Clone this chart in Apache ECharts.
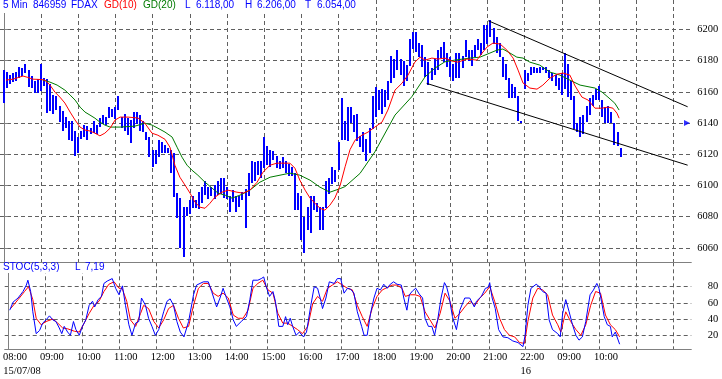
<!DOCTYPE html>
<html><head><meta charset="utf-8">
<script src="https://cdn.jsdelivr.net/npm/echarts@6/dist/echarts.min.js"></script>
<style>html,body{margin:0;padding:0;background:#fff}#c{width:722px;height:379px}</style>
</head><body><div id="c"></div>
<script>
// ---- data (bar index: 0 = 15/07 08:00, 5-minute bars; 168 = 16/07 08:00) ----
const barHigh = [
6174,6173,6171,6172,6173,6176,6175,6178,6174,6170,
6167,6168,6178,6169,6168,6165,6158,6157,6151,6148,
6144,6141,6141,6135,6131,6135,6139,6138,6137,6141,
6139,6143,6145,6144,6150,6149,6150,6157,6144,6146,
6143,6142,6147,6147,6145,6141,6134,6131,6123,6123,
6129,6128,6126,6124,6123,6121,6095,6092,6086,6086,
6091,6093,6091,6096,6099,6103,6099,6099,6100,6103,
6105,6105,6099,6093,6097,6093,6093,6096,6098,6108,
6116,6115,6116,6116,6131,6125,6123,6122,6119,6116,
6118,6116,6114,6112,6108,6095,6093,6080,6086,6093,
6093,6089,6086,6086,6103,6105,6112,6110,6128,6156,
6141,6150,6150,6145,6146,6132,6134,6130,6137,6157,
6163,6161,6162,6161,6167,6183,6181,6187,6181,6180,
6177,6194,6198,6198,6191,6190,6182,6179,6175,6181,
6187,6189,6192,6185,6182,6178,6185,6185,6183,6193,
6187,6187,6190,6194,6191,6203,6203,6206,6201,6195,
6191,6182,6178,6169,6165,6163,6157,6141,6174,6172,
6176,6176,6175,6176,6176,6176,6174,6172,6171,6169,
6172,6185,6178,6167,6157,6140,6144,6145,6151,6156,
6158,6162,6164,6155,6150,6151,6147,6140,6134,6124];
const barLow = [
6153,6163,6165,6166,6167,6169,6170,6172,6163,6162,
6159,6159,6161,6164,6146,6148,6146,6148,6141,6135,
6137,6129,6128,6119,6121,6130,6131,6129,6133,6133,
6133,6137,6139,6139,6143,6144,6142,6148,6137,6135,
6132,6127,6137,6139,6135,6134,6129,6118,6112,6114,
6118,6121,6121,6121,6108,6093,6079,6060,6054,6080,
6082,6085,6086,6085,6089,6094,6091,6093,6091,6094,
6095,6092,6091,6083,6089,6083,6086,6091,6073,6093,
6102,6103,6107,6105,6111,6113,6112,6116,6111,6111,
6111,6108,6106,6106,6084,6084,6065,6057,6071,6069,
6084,6083,6071,6071,6086,6095,6101,6102,6110,6129,
6129,6128,6140,6134,6129,6125,6121,6116,6121,6136,
6144,6148,6146,6150,6155,6166,6169,6174,6171,6164,
6167,6177,6187,6185,6182,6176,6169,6164,6167,6171,
6174,6182,6179,6176,6169,6167,6169,6169,6175,6182,
6180,6177,6182,6187,6183,6187,6191,6195,6191,6185,
6182,6169,6168,6156,6156,6156,6141,6140,6162,6167,
6171,6172,6172,6172,6174,6172,6169,6167,6164,6161,
6158,6162,6157,6155,6136,6134,6131,6133,6141,6145,
6151,6155,6155,6144,6140,6140,6140,6126,6125,6118];

// GD(10) as [bar index, value]
const gd10 = [[0.7,6167.5],[3,6168.1],[6.2,6170.1],[7.8,6169.2],[9.4,6168.1],[11.7,6167.9],[13.3,6167.5],[14.9,6164.3],[16.5,6159.8],[18.1,6156.6],[19.7,6152.8],[21.4,6147],[23,6141.9],[24.6,6137.4],[26.2,6135.5],[27.8,6134.9],[29.4,6133.5],[31,6131.8],[32.6,6133.5],[34.3,6136.7],[35.9,6141.9],[37.5,6143.8],[40.1,6143.8],[43.3,6143.2],[45.5,6139.9],[47.8,6133.5],[49.7,6132.2],[52,6129.6],[53.6,6124.5],[55.2,6112.9],[56.8,6105.3],[58.5,6100.1],[60.1,6095],[61.7,6089.2],[63.3,6086.1],[64.9,6085.4],[66.5,6088.6],[68.1,6092.5],[70.4,6095.7],[72.3,6097],[75.2,6095.7],[77.2,6095.1],[79.4,6097],[81.7,6102.1],[83.6,6108.5],[85.9,6113],[88.1,6114.3],[90.1,6114.3],[92.3,6114.3],[93.9,6111.1],[95.5,6103.4],[97.2,6097],[98.8,6091.9],[100.4,6088.6],[102,6085.4],[103.6,6084.2],[105.2,6087.4],[106.8,6092],[108.5,6100],[110.1,6112],[111.7,6123],[113.3,6129],[115.5,6132.2],[117.5,6134.2],[119.7,6137.4],[122,6140.6],[123.9,6148.3],[126.2,6161.1],[128.5,6165.6],[130.4,6170.7],[132.6,6179],[134.3,6182.2],[135.9,6180.3],[138.1,6181.6],[140.1,6181],[142.3,6181.6],[144.6,6179.7],[146.5,6179],[149.4,6181],[152.6,6180.3],[154.3,6184.8],[155.9,6188.7],[157.8,6191.2],[160.1,6190.6],[162.3,6186.7],[164.3,6181.6],[165.9,6173.9],[167.5,6165.6],[169.7,6162.4],[172,6161.7],[173.9,6164.3],[176.2,6168.8],[178.5,6171.3],[180.4,6172],[182.6,6170.7],[184.3,6163.7],[186.5,6156.6],[188.5,6154.7],[190.7,6149.5],[192.9,6149.5],[194.9,6150.2],[196.5,6149.5],[197.8,6146.3],[198.5,6143.1]];
// GD(20) as [bar index, value]
const gd20 = [[12.6,6167.5],[14.9,6166.2],[17.2,6164.3],[19.7,6161.1],[21.4,6157.9],[23,6154.7],[24.6,6150.2],[26.2,6147],[27.8,6145.1],[29.4,6143.1],[31,6140.6],[32.6,6138.7],[34.3,6137.4],[37.5,6137.4],[42.3,6138],[45.5,6139.9],[47.8,6138.7],[49.7,6136.7],[52,6134.2],[54.3,6131],[55.9,6124.5],[57.5,6118.1],[59.1,6113],[60.7,6109.8],[62.6,6106.6],[64.9,6102.1],[67.2,6098.3],[69.1,6095.1],[71.4,6093.8],[73.6,6091.9],[76.2,6093.8],[79.4,6097],[82.6,6102.1],[85.9,6105.3],[89.1,6106.6],[92.3,6107.9],[95.5,6106.6],[98.8,6103.4],[102,6098.9],[105.2,6095.7],[108.5,6098],[110.1,6099.3],[114.9,6107.7],[119.7,6121.5],[126.2,6145.1],[131.6,6156.8],[135.9,6169.6],[139.1,6175.2],[142.3,6179.2],[145.5,6180.3],[150.4,6181.6],[153.6,6182.2],[156.8,6184.8],[159.1,6186.7],[161,6187.4],[163.3,6184.8],[165.5,6182.2],[167.5,6181.6],[169.7,6179],[172.9,6177.1],[176.2,6172.6],[179.4,6170.7],[182.6,6167.5],[185.9,6164.3],[190.7,6162.4],[193,6159.8],[194.9,6156.6],[197.1,6152.7],[198.5,6148.3]];

// Stochastic %K (blue) and %D (red) as [bar index, value]
const stochK = [[0.4,51],[1.5,61],[3.1,66],[4.7,74],[5.8,82],[6.3,88],[7.2,74],[7.9,49],[9,22],[10.1,26],[11.1,35],[12.2,39],[13.3,44],[14.4,39],[15.4,37],[16.5,29],[17.3,22],[18.1,31],[19.2,24],[20.1,20],[21.1,37],[21.9,27],[23,20],[24,31],[25.1,39],[26.2,57],[27.3,62],[28,55],[29.1,64],[30.2,68],[31,84],[32.1,87],[33.7,90],[34.8,78],[35.9,70],[37,81],[38,57],[39.1,33],[40.1,20],[41.3,35],[42.3,37],[43.2,66],[44.5,57],[45.5,41],[46.6,31],[47.7,20],[48.8,27],[50.4,49],[51.5,62],[52.5,65],[53.6,57],[54.7,37],[55.8,24],[57,18],[58.5,37],[60.1,70],[61.1,82],[63.3,86],[64.9,86],[66,74],[67.6,55],[68.7,66],[69.7,78],[70.8,66],[71.9,55],[73,39],[74,31],[75.6,37],[77.3,43],[78.4,64],[79.4,88],[81,88],[82.1,90],[82.9,92],[83.7,80],[84.8,68],[85.9,74],[86.7,62],[87.8,31],[89.1,31],[90,43],[90.7,33],[91.5,41],[92.3,31],[93.4,20],[94.5,24],[95.8,18],[96.8,24],[98.2,57],[99.3,80],[100.4,78],[101.5,62],[102,53],[103.1,66],[104.2,86],[105.8,84],[106.8,90],[107.9,90],[109,72],[110.1,78],[111.1,77],[112.2,72],[113.3,49],[114.7,31],[115.5,20],[116.5,20],[117.6,47],[118.7,66],[119.7,78],[120.8,76],[121.9,83],[123,78],[124,83],[125.1,86],[126.2,83],[127.6,82],[128.4,66],[129.4,51],[130.2,70],[131.3,75],[132.3,78],[133.4,71],[134.5,66],[135.3,41],[136.4,31],[137.5,31],[138.4,20],[139.4,39],[140.5,66],[141.6,85],[142.3,80],[143.1,68],[144.2,43],[145.5,27],[146.6,51],[148.2,66],[149.8,66],[151.3,55],[152,62],[153.6,68],[154.9,78],[155.8,79],[156.3,85],[157.1,66],[158.1,53],[159.2,27],[160.6,18],[162.2,17],[163.8,13],[165.5,11],[167.1,6],[167.8,20],[168.7,57],[169.7,78],[171.4,83],[172.4,80],[173.5,74],[174.6,72],[175.6,39],[176.7,27],[178.4,22],[179.2,18],[180,47],[181,64],[182.1,49],[183.2,33],[184.3,20],[185.3,14],[186.4,18],[187.5,37],[188.9,70],[190,76],[191.1,84],[191.8,78],[192.6,62],[193.5,43],[194.5,33],[195.5,31],[196.1,18],[197.1,24],[198.5,9]];
const stochD = [[0.7,53],[3.1,64],[5.2,74],[6.5,80],[7.9,64],[9,41],[10.6,33],[12.2,37],[14.4,40],[16,35],[17.6,29],[19.2,28],[21.4,25],[23,24],[24.6,35],[26.2,47],[27.8,57],[29.4,62],[31,74],[32.6,83],[34.3,86],[35.9,78],[36.9,78],[38.4,62],[39.6,39],[41.3,31],[42.9,47],[43.9,57],[45.5,53],[47.2,37],[48.8,29],[50.4,39],[52,53],[53.6,57],[55.2,41],[56.8,29],[58.5,31],[60.1,57],[61.7,78],[63.3,84],[64.9,84],[66.5,72],[68.1,68],[69.7,72],[71.4,66],[73,45],[74.6,41],[76.2,41],[77.8,51],[79.4,78],[81,84],[82.6,88],[84.3,76],[85.9,72],[87.5,47],[89.1,35],[90.7,35],[92.3,31],[93.9,27],[95.5,22],[97.2,31],[98.8,59],[100.4,68],[102,62],[103.6,78],[105.2,82],[106.8,86],[108.5,82],[110.1,78],[111.7,76],[113.3,57],[114.9,43],[116.5,31],[118.1,53],[119.7,68],[121.4,76],[123,79],[124.6,82],[126.2,82],[127.8,78],[128.9,68],[130.5,70],[132.1,70],[133.7,68],[135.3,49],[136.9,39],[138.5,29],[140.2,47],[141.8,72],[143.4,62],[145,41],[146.6,47],[148.2,55],[149.8,62],[151.5,57],[153.1,66],[154.7,72],[156.3,80],[157.9,62],[159.5,41],[161.1,27],[162.7,20],[164.4,18],[166,11],[167.6,10],[168.7,37],[170.3,66],[171.9,78],[173.5,76],[175.1,70],[176.7,45],[178.4,33],[179.4,24],[181,49],[182.6,37],[184.3,27],[185.9,20],[187.5,33],[189.1,57],[190.7,74],[192.3,72],[193.9,45],[195.5,33],[197.1,27],[198.5,18]];

// trend channel lines [bar index, value]
const channelUpper = [[156.3,6205.5],[220.6,6150.4]];
const channelLower = [[136.4,6165.4],[220.6,6113.0]];
const lastMarker = [[220.4,6140]];

// ticks / labels
const priceTicks = [6060,6080,6100,6120,6140,6160,6180,6200];
const stochTicks = [20,40,60,80];
const gridIdx = [12,24,36,48,60,72,84,96,108,120,132,144,156,168,180,192,204,216];
const timeTickIdx = [0,12,24,36,48,60,72,84,96,108,120,132,144,156,168,180,192];
const timeTickLabels = ['08:00','09:00','10:00','11:00','12:00','13:00','14:00','15:00','16:00','17:00','18:00','19:00','20:00','21:00','22:00','09:00','10:00'];
const dateTickIdx = [4.4,168];
const dateTickLabels = ['15/07/08','16'];
const headerItems = [['5 Min','#0000ff',3],['846959','#0000ff',33],['FDAX','#0000ff',71],['GD(10)','#ff0000',104],['GD(20)','#007a00',143],['L','#0000ff',185],['6.118,00','#0000ff',196],['H','#0000ff',245],['6.206,00','#0000ff',257],['T','#0000ff',305],['6.054,00','#0000ff',317]];
const stocHeaderItems = [['STOC(5,3,3)','#0000ff',3],['L','#0000ff',75],['7,19','#0000ff',85]];

// ---- chart ----
const X_MIN = -1.226, X_MAX = 221.78, LABEL_SHIFT = 2.1;
const GRID_COLOR = '#606060', AXIS_COLOR = '#808080';
const serif = '"Liberation Serif","Times New Roman",serif';
const sans = '"Liberation Sans",Arial,sans-serif';
const dash = {color: GRID_COLOR, width: 1, type: [4, 3]};

const bars = barHigh.map((h, i) => [i, barLow[i], h]);

function xBase(gi) {
  return {gridIndex: gi, type: 'value', position: 'bottom', min: X_MIN, max: X_MAX,
    axisLine: {show: true, onZero: false, lineStyle: {color: AXIS_COLOR}},
    axisTick: {show: false, customValues: gridIdx},
    axisLabel: {show: false, customValues: gridIdx},
    splitLine: {show: true, lineStyle: dash}};
}

const graphic = [
  {type: 'rect', shape: {x: 0, y: 0, width: 356, height: 13}, style: {fill: '#fff'}, z: 10},
  {type: 'rect', shape: {x: 0, y: 263, width: 106, height: 10}, style: {fill: '#fff'}, z: 10}
];
headerItems.forEach(([t, c, x]) => graphic.push({type: 'text', x: x, y: 0, z: 11,
  style: {text: t, fill: c, font: '10px ' + sans, textVerticalAlign: 'top'}}));
stocHeaderItems.forEach(([t, c, x]) => graphic.push({type: 'text', x: x, y: 262.5, z: 11,
  style: {text: t, fill: c, font: '10px ' + sans, textVerticalAlign: 'top'}}));

const option = {
  animation: false,
  backgroundColor: '#fff',
  grid: [
    {left: 0, top: 0, width: 691.3, height: 262.3},
    {left: 0, top: 262.3, width: 691.3, height: 87}
  ],
  xAxis: [
    xBase(0),
    xBase(1),
    {gridIndex: 1, type: 'value', position: 'bottom', min: X_MIN - LABEL_SHIFT, max: X_MAX - LABEL_SHIFT,
      axisLine: {show: false, onZero: false}, splitLine: {show: false},
      axisTick: {show: false, customValues: timeTickIdx},
      axisLabel: {show: true, customValues: timeTickIdx, margin: 2, color: '#000',
        fontFamily: serif, fontSize: 10.5,
        formatter: v => timeTickLabels[timeTickIdx.indexOf(Math.round(v))] || ''}},
    {gridIndex: 1, type: 'value', position: 'bottom', min: X_MIN, max: X_MAX,
      axisLine: {show: false, onZero: false}, splitLine: {show: false},
      axisTick: {show: false, customValues: dateTickIdx},
      axisLabel: {show: true, customValues: dateTickIdx, margin: 16, color: '#000',
        fontFamily: serif, fontSize: 10.5,
        formatter: v => { const k = dateTickIdx.findIndex(d => Math.abs(d - v) < 0.01); return k >= 0 ? dateTickLabels[k] : ''; }}}
  ],
  yAxis: [
    {gridIndex: 0, type: 'value', position: 'right', min: 6050.8, max: 6218.8,
      axisLine: {show: true, lineStyle: {color: AXIS_COLOR}},
      axisTick: {show: true, length: 4, customValues: priceTicks, lineStyle: {color: AXIS_COLOR}},
      axisLabel: {customValues: priceTicks, align: 'right', margin: 27, color: '#000', fontFamily: serif, fontSize: 10.5,
        formatter: v => String(Math.round(v))},
      splitLine: {show: true, lineStyle: dash}},
    {gridIndex: 1, type: 'value', position: 'right', min: 2.7, max: 110.1,
      axisLine: {show: true, lineStyle: {color: AXIS_COLOR}},
      axisTick: {show: false, customValues: stochTicks},
      axisLabel: {customValues: stochTicks, align: 'right', margin: 27, color: '#000', fontFamily: serif, fontSize: 10.5,
        formatter: v => String(Math.round(v))},
      splitLine: {show: true, lineStyle: dash}}
  ],
  graphic: graphic,
  series: [
    {type: 'custom', xAxisIndex: 0, yAxisIndex: 0, data: bars, encode: {x: 0, y: [1, 2]}, z: 3,
      renderItem: function (params, api) {
        const top = api.coord([api.value(0), api.value(2)]);
        const bot = api.coord([api.value(0), api.value(1)]);
        const x = Math.round(top[0]) - 1;
        return {type: 'rect', shape: {x: x, y: Math.round(top[1]), width: 2, height: Math.max(1, Math.round(bot[1] - top[1]))},
          style: {fill: '#0000ff'}};
      }},
    {type: 'line', xAxisIndex: 0, yAxisIndex: 0, data: gd20, showSymbol: false, z: 4,
      lineStyle: {color: '#007a00', width: 1}},
    {type: 'line', xAxisIndex: 0, yAxisIndex: 0, data: gd10, showSymbol: false, z: 5,
      lineStyle: {color: '#ff0000', width: 1}},
    {type: 'line', xAxisIndex: 0, yAxisIndex: 0, data: channelUpper, showSymbol: false, z: 6,
      lineStyle: {color: '#000', width: 1}},
    {type: 'line', xAxisIndex: 0, yAxisIndex: 0, data: channelLower, showSymbol: false, z: 6,
      lineStyle: {color: '#000', width: 1}},
    {type: 'scatter', xAxisIndex: 0, yAxisIndex: 0, data: lastMarker, symbol: 'triangle', symbolRotate: -90,
      symbolSize: 6, itemStyle: {color: '#0000ff'}, z: 7},
    {type: 'line', xAxisIndex: 1, yAxisIndex: 1, data: stochD, showSymbol: false, z: 4,
      lineStyle: {color: '#ff0000', width: 1}},
    {type: 'line', xAxisIndex: 1, yAxisIndex: 1, data: stochK, showSymbol: false, z: 5,
      lineStyle: {color: '#0000ff', width: 1}}
  ]
};
echarts.init(document.getElementById('c'), null, {renderer: 'canvas'}).setOption(option);
</script></body></html>
